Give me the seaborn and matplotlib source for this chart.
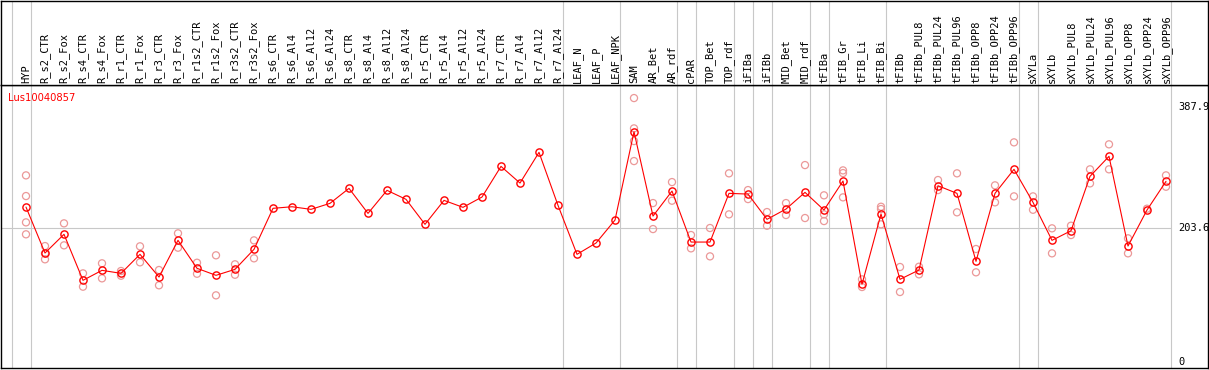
import seaborn as sns
import matplotlib.pyplot as plt
import pandas as pd
import numpy as np

sns.set_style("white")
plt.rcParams['font.family'] = ['DejaVu Sans Mono', 'DejaVu Sans']

# ---- data ----
categories = [
    "HYP", "R_s2_CTR", "R_s2_Fox", "R_s4_CTR", "R_s4_Fox", "R_r1_CTR", "R_r1_Fox",
    "R_r3_CTR", "R_r3_Fox", "R_r1s2_CTR", "R_r1s2_Fox", "R_r3s2_CTR", "R_r3s2_Fox",
    "R_s6_CTR", "R_s6_Al4", "R_s6_Al12", "R_s6_Al24", "R_s8_CTR", "R_s8_Al4",
    "R_s8_Al12", "R_s8_Al24", "R_r5_CTR", "R_r5_Al4", "R_r5_Al12", "R_r5_Al24",
    "R_r7_CTR", "R_r7_Al4", "R_r7_Al12", "R_r7_Al24", "LEAF_N", "LEAF_P", "LEAF_NPK",
    "SAM", "AR_Bet", "AR_rdf", "cPAR", "TOP_Bet", "TOP_rdf", "iFIBa", "iFIBb",
    "MID_Bet", "MID_rdf", "tFIBa", "tFIB_Gr", "tFIB_Li", "tFIB_Bi", "tFIBb",
    "tFIBb_PUL8", "tFIBb_PUL24", "tFIBb_PUL96", "tFIBb_OPP8", "tFIBb_OPP24",
    "tFIBb_OPP96", "sXYLa", "sXYLb", "sXYLb_PUL8", "sXYLb_PUL24", "sXYLb_PUL96",
    "sXYLb_OPP8", "sXYLb_OPP24", "sXYLb_OPP96",
]

mean_vals = [
    235.6, 165.6, 194.1, 124.0, 139.2, 134.6, 163.6, 129.0, 184.9, 142.3, 131.6,
    140.7, 171.2, 233.7, 236.1, 232.1, 241.3, 264.1, 226.0, 261.1, 247.4, 209.3,
    245.8, 235.2, 250.9, 297.6, 272.2, 319.0, 238.2, 163.6, 180.8, 215.8,
    350.4, 221.9, 260.0, 182.3, 182.3, 256.5, 255.4, 216.9, 232.6, 258.0, 231.1,
    275.3, 117.9, 225.0, 125.5, 139.7, 268.1, 256.5, 152.9, 256.5, 293.1, 242.8,
    184.9, 199.5, 282.4, 312.9, 176.2, 231.1, 274.8,
]

rep_vals = [
    [283.9, 252.4, 212.3, 194.1], [176.2, 156.0, 165.0], [210.8, 177.3],
    [134.6, 114.3], [149.9, 127.0], [138.2, 131.0], [175.8, 151.4],
    [139.7, 116.4], [195.6, 173.7], [150.8, 134.0], [162.1, 101.1],
    [148.4, 132.5], [184.9, 157.5],
    [], [], [], [], [], [], [], [], [], [], [], [], [], [], [], [], [], [], [],
    [401.7, 355.5, 336.2, 305.7], [241.7, 202.1], [273.7, 245.3], [193.0, 172.7],
    [203.7, 160.5], [287.0, 224.5], [261.5, 247.8], [228.0, 207.2],
    [241.7, 223.5], [299.6, 218.9], [253.5, 224.5, 214.3],
    [291.5, 287.4, 250.4], [125.5, 113.8], [236.1, 232.6, 209.3],
    [144.3, 106.2], [144.7, 133.1], [276.8, 261.5], [287.0, 227.6],
    [171.7, 136.2], [268.7, 242.8], [334.2, 251.9], [251.9, 231.5],
    [203.2, 165.1], [207.2, 193.0], [293.1, 271.7], [331.2, 293.1],
    [188.0, 165.1], [233.1], [283.9, 266.6],
]

gene = "Lus10040857"
y_ticks = [0, 203.6, 387.9]
group_ends = [-1, 0, 28, 31, 34, 35, 37, 38, 39, 41, 42, 45, 52, 53, 60]

pos = np.arange(len(categories))
df_mean = pd.DataFrame({"pos": pos, "value": mean_vals})
df_rep = pd.DataFrame(
    [(i, v) for i, vals in enumerate(rep_vals) for v in vals],
    columns=["pos", "value"],
)

# ---- figure layout (pixel based) ----
W, H = 1209, 370
fig = plt.figure(figsize=(W / 100, H / 100), dpi=100)
ax = fig.add_axes([1 / W, 2 / H, 1207 / W, 283 / H])
hx = fig.add_axes([1 / W, 285 / H, 1207 / W, 84.5 / H], sharex=ax)

x0 = (1 - 26) / 19
x1 = (1208 - 26) / 19
ax.set_xlim(x0, x1)
ax.set_ylim(-9.6, 421.6)
hx.set_ylim(0, 1)

for a in (ax, hx):
    a.set_xticks([])
    a.set_yticks([])
    for s in a.spines.values():
        s.set_color("black")
        s.set_linewidth(1.0)
    for g in group_ends:
        a.axvline(g + 0.25, color="#c8c8c8", lw=0.8, zorder=0)

ax.hlines(203.6, x0, 60.25, color="#c8c8c8", lw=0.8, zorder=0)

# replicates
sns.scatterplot(data=df_rep, x="pos", y="value", ax=ax, s=26,
                facecolors="none", edgecolor="#eb9898", linewidth=0.9, zorder=2)

# mean profile
sns.lineplot(data=df_mean, x="pos", y="value", ax=ax, color="red", lw=0.8,
             marker="o", markersize=5.2, markerfacecolor="none",
             markeredgecolor="red", markeredgewidth=1.0, zorder=3)
ax.set_xlabel("")
ax.set_ylabel("")

for t in y_ticks:
    ax.text((1178 - 26) / 19, t, f"{t:g}", ha="left", va="center",
            fontsize=7.5, color="black")

ax.text(7 / 1207, (368 - 101) / 283, gene, transform=ax.transAxes,
        ha="left", va="baseline", color="red", fontsize=7.2,
        family="DejaVu Sans")

for i, lab in enumerate(categories):
    hx.text(i, 0.025, lab, rotation=90, ha="center", va="bottom",
            fontsize=7.5, color="black")

fig.savefig("out.png", dpi=100)
plt.close(fig)
